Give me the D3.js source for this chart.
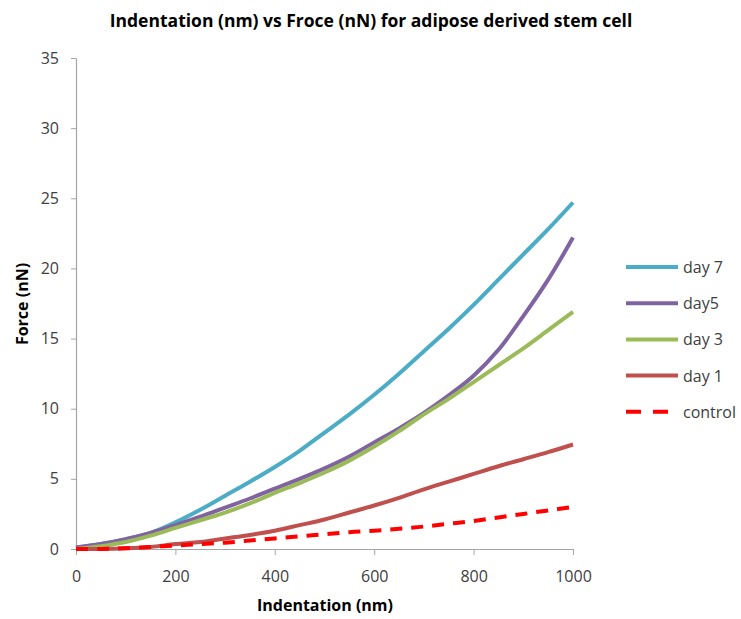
<!DOCTYPE html>
<html>
<head>
<meta charset="utf-8">
<script src="https://cdn.jsdelivr.net/npm/d3@7"></script>
<style>
  body { margin: 0; background: #fff; }
  text { font-family: "Open Sans", "Noto Sans", sans-serif; }
</style>
</head>
<body>
<div id="chart"></div>
<script>
// indentation (nm) sample points
const indentation = [0, 50, 100, 150, 200, 250, 300, 350, 400, 450, 500, 550, 600, 650, 700, 750, 800, 850, 900, 950, 1000];

const day7 = [0.1, 0.35, 0.7, 1.15, 1.9, 2.8, 3.8, 4.8, 5.85, 7.0, 8.3, 9.6, 11.0, 12.5, 14.1, 15.7, 17.4, 19.2, 21.0, 22.8, 24.7];
const day5 = [0.1, 0.35, 0.7, 1.15, 1.7, 2.3, 2.95, 3.6, 4.3, 5.0, 5.75, 6.6, 7.6, 8.6, 9.7, 10.95, 12.35, 14.2, 16.6, 19.2, 22.2];
const day3 = [0.0, 0.2, 0.5, 0.95, 1.5, 2.05, 2.6, 3.25, 4.0, 4.7, 5.45, 6.3, 7.3, 8.4, 9.6, 10.7, 11.9, 13.1, 14.3, 15.6, 16.9];
const day1 = [0.0, 0.0, 0.05, 0.15, 0.35, 0.5, 0.75, 1.0, 1.3, 1.7, 2.1, 2.6, 3.1, 3.65, 4.25, 4.8, 5.35, 5.9, 6.4, 6.9, 7.45];
const control = [0.0, 0.0, 0.05, 0.15, 0.25, 0.35, 0.45, 0.6, 0.75, 0.9, 1.05, 1.2, 1.3, 1.45, 1.6, 1.8, 2.0, 2.25, 2.5, 2.75, 3.0];

const seriesNames = ["day 7", "day5", "day 3", "day 1", "control"];
const seriesColors = ["#4BACC6", "#8064A2", "#9BBB59", "#C0504D", "#FF0000"];
const seriesValues = [day7, day5, day3, day1, control];

const xTicks = [0, 200, 400, 600, 800, 1000];
const yTicks = [0, 5, 10, 15, 20, 25, 30, 35];

const W = 741, H = 619;
const margin = { top: 58, right: 168, bottom: 70, left: 76 };
const width = W - margin.left - margin.right;
const height = H - margin.top - margin.bottom;

const svg = d3.select("#chart")
  .append("svg")
  .attr("width", W)
  .attr("height", H);

const g = svg.append("g")
  .attr("transform", `translate(${margin.left},${margin.top})`);

const x = d3.scaleLinear().domain([0, 1000]).range([0, width]);
const y = d3.scaleLinear().domain([0, 35]).range([height, 0]);

// axes
const xAxis = g.append("g")
  .attr("transform", `translate(0,${height})`)
  .call(d3.axisBottom(x).tickValues(xTicks).tickFormat(d3.format("d")).tickSize(6).tickSizeOuter(0));
const yAxis = g.append("g")
  .call(d3.axisLeft(y).tickValues(yTicks).tickFormat(d3.format("d")).tickSize(5).tickSizeOuter(0));

[xAxis, yAxis].forEach(a => {
  a.select(".domain").attr("stroke", "#A6A6A6").attr("stroke-width", 1.2);
  a.selectAll(".tick line").attr("stroke", "#A6A6A6");
  a.selectAll(".tick text")
    .attr("fill", "#404040")
    .style("font-size", "16px");
});
xAxis.selectAll(".tick text").attr("y", 33).attr("dy", 0);
yAxis.selectAll(".tick text").attr("x", -17);

// lines
const line = d3.line()
  .x((d, i) => x(indentation[i]))
  .y(d => y(d))
  .curve(d3.curveCatmullRom.alpha(0.5));

seriesValues.forEach((vals, k) => {
  g.append("path")
    .datum(vals)
    .attr("fill", "none")
    .attr("stroke", seriesColors[k])
    .attr("stroke-width", 4)
    .attr("stroke-linejoin", "round")
    .attr("stroke-dasharray", k === 4 ? "12,9" : null)
    .attr("d", line);
});

// title
svg.append("text")
  .attr("x", 371)
  .attr("y", 27)
  .attr("text-anchor", "middle")
  .style("font-size", "17.5px")
  .style("font-weight", "bold")
  .attr("fill", "#000")
  .text("Indentation (nm) vs Froce (nN) for adipose derived stem cell");

// axis titles
svg.append("text")
  .attr("x", 325)
  .attr("y", 611)
  .attr("text-anchor", "middle")
  .style("font-size", "16px")
  .style("font-weight", "bold")
  .text("Indentation (nm)");

svg.append("text")
  .attr("transform", `translate(28,304) rotate(-90)`)
  .attr("text-anchor", "middle")
  .style("font-size", "16px")
  .style("font-weight", "bold")
  .text("Force (nN)");

// legend
const legend = svg.append("g").attr("transform", "translate(626,267)");
seriesNames.forEach((name, k) => {
  const row = legend.append("g").attr("transform", `translate(0,${k * 36.2})`);
  row.append("line")
    .attr("x1", 0).attr("x2", 52)
    .attr("y1", 0).attr("y2", 0)
    .attr("stroke", seriesColors[k])
    .attr("stroke-width", 4)
    .attr("stroke-dasharray", k === 4 ? "15,12" : null);
  row.append("text")
    .attr("x", 57)
    .attr("y", 6)
    .attr("fill", "#404040")
    .style("font-size", "16px")
    .text(name);
});
</script>
</body>
</html>
